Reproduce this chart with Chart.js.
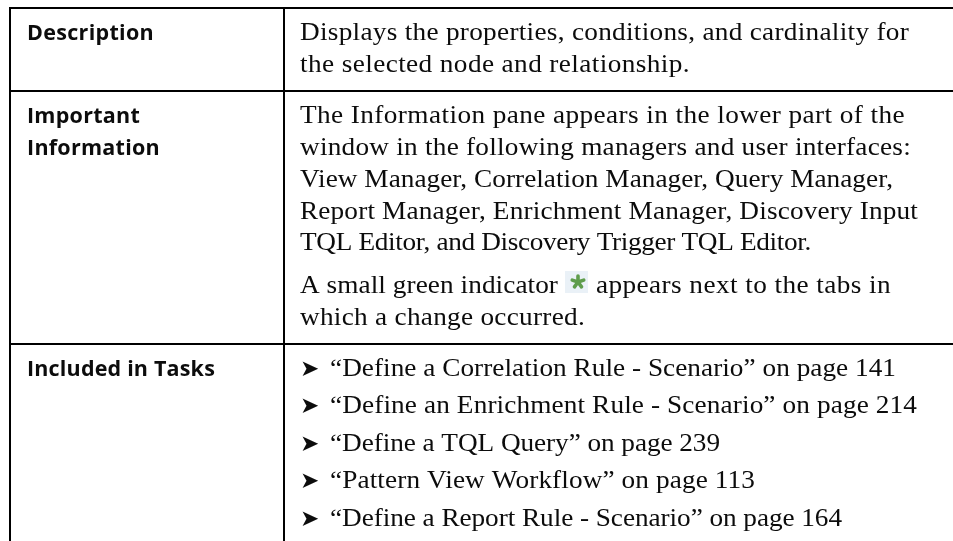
<!DOCTYPE html>
<html>
<head>
<meta charset="utf-8">
<style>
html, body { margin: 0; padding: 0; background: #fff; overflow: hidden; }
canvas { display: block; }
</style>
<script src="https://cdn.jsdelivr.net/npm/chart.js@4"></script>
</head>
<body>
<canvas id="infoTable" width="953" height="541"></canvas>
<script>
// Table text
const rowHeads = ['Description', 'Important', 'Information', 'Included in Tasks'];
const bodyLines = [
    'Displays the properties, conditions, and cardinality for',
    'the selected node and relationship.',
    'The Information pane appears in the lower part of the',
    'window in the following managers and user interfaces:',
    'View Manager, Correlation Manager, Query Manager,',
    'Report Manager, Enrichment Manager, Discovery Input',
    'TQL Editor, and Discovery Trigger TQL Editor.',
    'A small green indicator',
    'which a change occurred.'
];
const noteAfter = 'appears next to the tabs in';
const taskLines = [
    '\u201CDefine a Correlation Rule - Scenario\u201D on page 141',
    '\u201CDefine an Enrichment Rule - Scenario\u201D on page 214',
    '\u201CDefine a TQL Query\u201D on page 239',
    '\u201CPattern View Workflow\u201D on page 113',
    '\u201CDefine a Report Rule - Scenario\u201D on page 164'
];

// Table geometry, in page pixels
const colRules = [10, 284];
const rowRules = [8, 91, 344];
const headBaselines = [40, 123, 155, 376];
const headEnds = [154, 140, 160, 215];
const bodyBaselines = [40, 71.5, 123, 155, 187, 218.5, 250, 293, 325];
const bodyEnds = [909, 690, 905, 911, 893, 918, 811, 558, 585];
const taskBaselines = [376, 413, 451, 488, 526];
const taskEnds = [896, 917, 720, 755, 842];

const headFont = '700 21.5px "Open Sans"';
const bodyFont = '25px "Liberation Serif"';
const bulletFont = '23px "DejaVu Sans"';
const bodyStretch = 1.09; // the original serif is wider than Liberation

const cellText = {
    id: 'cellText',
    afterDatasetsDraw(chart) {
        const { ctx, scales: { x, y } } = chart;
        ctx.save();
        ctx.fillStyle = '#0c0c0c';
        ctx.textBaseline = 'alphabetic';

        // fit each line so it ends where it does in the page
        function put(str, from, to, base, font, stretch) {
            ctx.font = font;
            ctx.letterSpacing = '0px';
            const extra = ((to - from) / stretch - ctx.measureText(str).width) / str.length;
            ctx.letterSpacing = extra + 'px';
            ctx.save();
            ctx.translate(x.getPixelForValue(from), y.getPixelForValue(base));
            ctx.scale(stretch, 1);
            ctx.fillText(str, 0, 0);
            ctx.restore();
        }

        rowHeads.forEach((l, i) => put(l, 27, headEnds[i], headBaselines[i], headFont, 1));
        bodyLines.forEach((l, i) => put(l, 300, bodyEnds[i], bodyBaselines[i], bodyFont, bodyStretch));
        put(noteAfter, 596, 891, bodyBaselines[7], bodyFont, bodyStretch);

        taskLines.forEach((l, i) => {
            ctx.font = bulletFont;
            ctx.letterSpacing = '0px';
            ctx.fillText('\u27A4', x.getPixelForValue(300), y.getPixelForValue(taskBaselines[i]));
            put(l, 330, taskEnds[i], taskBaselines[i], bodyFont, bodyStretch);
        });
        ctx.restore();
    }
};

// Green change indicator
function makeIndicator() {
    const c = document.createElement('canvas');
    c.width = 23;
    c.height = 22;
    const g = c.getContext('2d');
    g.fillStyle = '#eaf1f7';
    g.fillRect(0, 0, 23, 22);
    g.strokeStyle = '#5f9d4c';
    g.lineWidth = 3.6;
    g.lineCap = 'round';
    for (let a = 0; a < 5; a++) {
        const t = a * 2 * Math.PI / 5;
        g.beginPath();
        g.moveTo(13, 11);
        g.lineTo(13 + Math.sin(t) * 6, 11 - Math.cos(t) * 6);
        g.stroke();
    }
    return c;
}

new Chart(document.getElementById('infoTable'), {
    type: 'scatter',
    plugins: [cellText],
    data: {
        datasets: [
            { data: [{ x: 576.5, y: 282 }], pointStyle: makeIndicator(), pointRadius: 11 }
        ]
    },
    options: {
        responsive: false,
        animation: false,
        events: [],
        layout: { autoPadding: false, padding: { left: 9, top: 7, right: 0, bottom: 0 } },
        plugins: { legend: { display: false }, title: { display: false }, tooltip: { enabled: false } },
        scales: {
            x: {
                type: 'linear', min: 9, max: 953,
                afterBuildTicks: axis => { axis.ticks = colRules.map(v => ({ value: v })); },
                ticks: { display: false },
                border: { display: false },
                grid: { color: '#000', lineWidth: 2, drawTicks: false }
            },
            y: {
                type: 'linear', min: 7, max: 541, reverse: true,
                afterBuildTicks: axis => { axis.ticks = rowRules.map(v => ({ value: v })); },
                ticks: { display: false },
                border: { display: false },
                grid: { color: '#000', lineWidth: 2, drawTicks: false }
            }
        }
    }
});
</script>
</body>
</html>
